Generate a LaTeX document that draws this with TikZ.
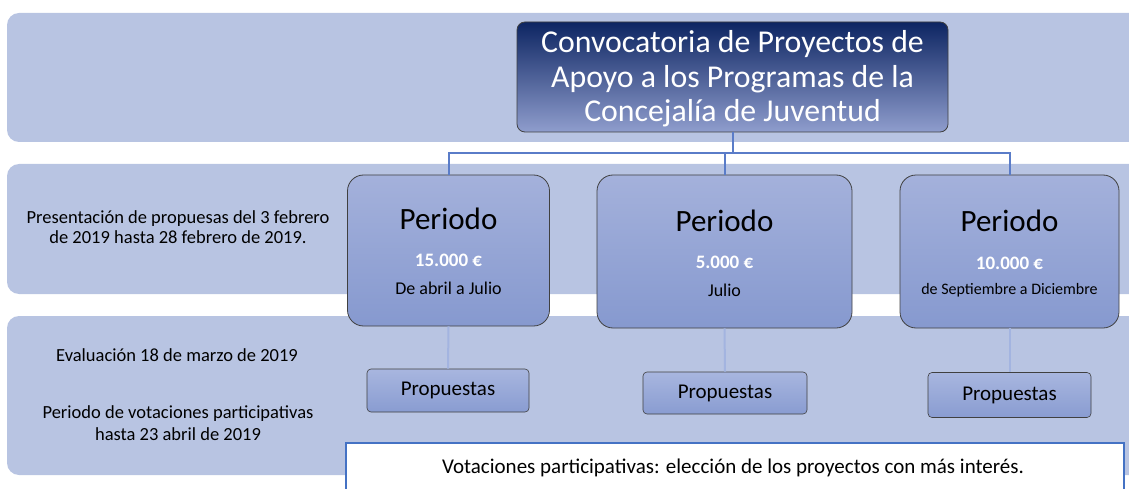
\documentclass[tikz,border=0pt]{standalone}
\usepackage{fontspec}
\setmainfont{Carlito}
\definecolor{band}{HTML}{B8C4E2}
\definecolor{topline}{HTML}{5A7CC8}
\definecolor{lowline}{HTML}{A3B4E0}
\definecolor{boxedge}{HTML}{404040}
\definecolor{blueedge}{HTML}{4472C4}
\tikzset{
  bandbox/.style={fill=band, rounded corners=12pt, draw=none},
  titlebox/.style={draw=boxedge, line width=0.8pt, rounded corners=8pt,
    top color={rgb,255:red,13;green,37;blue,98}, middle color={rgb,255:red,85;green,105;blue,165},
    bottom color={rgb,255:red,143;green,157;blue,205},
    text=white, align=center, inner sep=0pt},
  perbox/.style={draw=boxedge, line width=0.8pt, rounded corners=16pt,
    top color={rgb,255:red,164;green,177;blue,219}, bottom color={rgb,255:red,134;green,153;blue,207}, inner sep=0pt},
  propbox/.style={draw=boxedge, line width=0.6pt, rounded corners=4pt,
    top color={rgb,255:red,168;green,182;blue,223}, bottom color={rgb,255:red,137;green,156;blue,209},
    inner sep=0pt, font=\fontsize{21}{23}\selectfont},
  bigtxt/.style={font=\fontsize{31}{33}\selectfont, inner sep=0pt},
  eurotxt/.style={font=\fontsize{19}{21}\selectfont\bfseries, text=white, inner sep=0pt},
  smalltxt/.style={font=\fontsize{18}{20}\selectfont, inner sep=0pt},
  sidetxt/.style={font=\fontsize{18.5}{20}\selectfont, align=center, inner sep=0pt},
  topconn/.style={draw=topline, line width=2pt},
  lowconn/.style={draw=lowline, line width=2pt},
}
\begin{document}
\begin{tikzpicture}[x=1pt, y=-1pt]
\useasboundingbox (0,0) rectangle (1129,489);
\clip (0,0) rectangle (1129,489);
% bands
\fill[bandbox] (7,13) rectangle (1150,142);
\fill[bandbox] (7,164) rectangle (1150,294);
\fill[bandbox] (7,316) rectangle (1150,475);
% title
\node[titlebox, minimum width=431pt, minimum height=110pt] (title) at (732.5,77) {};
\node[font=\fontsize{31.8}{34.5}\selectfont, text=white, align=center, inner sep=0pt] (titletext) at (732.5,79)
  {Convocatoria de Proyectos de\\Apoyo a los Programas de la\\Concejalía de Juventud};
% period boxes
\node[perbox, minimum width=202pt, minimum height=151pt] (p1) at (448.5,250.5) {};
\node[perbox, minimum width=255pt, minimum height=153pt] (p2) at (724.5,251.5) {};
\node[perbox, minimum width=219pt, minimum height=153pt] (p3) at (1009.5,251.5) {};
\node[bigtxt] (p1t) at (448.5,219) {Periodo};
\node[eurotxt] (p1e) at (448.5,260) {15.000 €};
\node[smalltxt] (p1d) at (448.5,288) {De abril a Julio};
\node[bigtxt] (p2t) at (724.5,221) {Periodo};
\node[eurotxt] (p2e) at (724.5,262) {5.000 €};
\node[smalltxt] (p2d) at (724.5,290) {Julio};
\node[bigtxt] (p3t) at (1009.5,221) {Periodo};
\node[eurotxt] (p3e) at (1009.5,263) {10.000 €};
\node[smalltxt, font=\fontsize{16}{18}\selectfont] (p3d) at (1009.5,290) {de Septiembre a Diciembre};
% connectors top
\coordinate (j) at (732.5,153);
\draw[topconn] (title.south) -- (j);
\draw[topconn] (p1.north) |- (j);
\draw[topconn] (p3.north) |- (j);
\draw[topconn] (p2.north) -- (p2.north |- j);
% propuestas
\node[propbox, minimum width=162pt, minimum height=43pt] (q1) at (448,390.5) {Propuestas};
\node[propbox, minimum width=164pt, minimum height=42pt] (q2) at (725,393) {Propuestas};
\node[propbox, minimum width=163pt, minimum height=45pt] (q3) at (1009.5,395) {Propuestas};
\draw[lowconn] (p1.south) -- (q1.north);
\draw[lowconn] (p2.south) -- (q2.north);
\draw[lowconn] (p3.south) -- (q3.north);
% side texts
\node[sidetxt] (s1) at (178,227.5) {Presentación de propuesas del 3 febrero\\de 2019 hasta 28 febrero de 2019.};
\node[sidetxt] (s2) at (177,355) {Evaluación 18 de marzo de 2019};
\node[sidetxt, font=\fontsize{18.5}{21.5}\selectfont] (s3) at (178,423) {Periodo de votaciones participativas\\hasta 23 abril de 2019};
% bottom box
\draw[fill=white, draw=blueedge, line width=1.5pt] (346,443) rectangle (1124,505);
\node[sidetxt, font=\fontsize{21}{23}\selectfont] (v) at (733,468) {Votaciones participativas: elección de los proyectos con más interés.};
\end{tikzpicture}
\end{document}
